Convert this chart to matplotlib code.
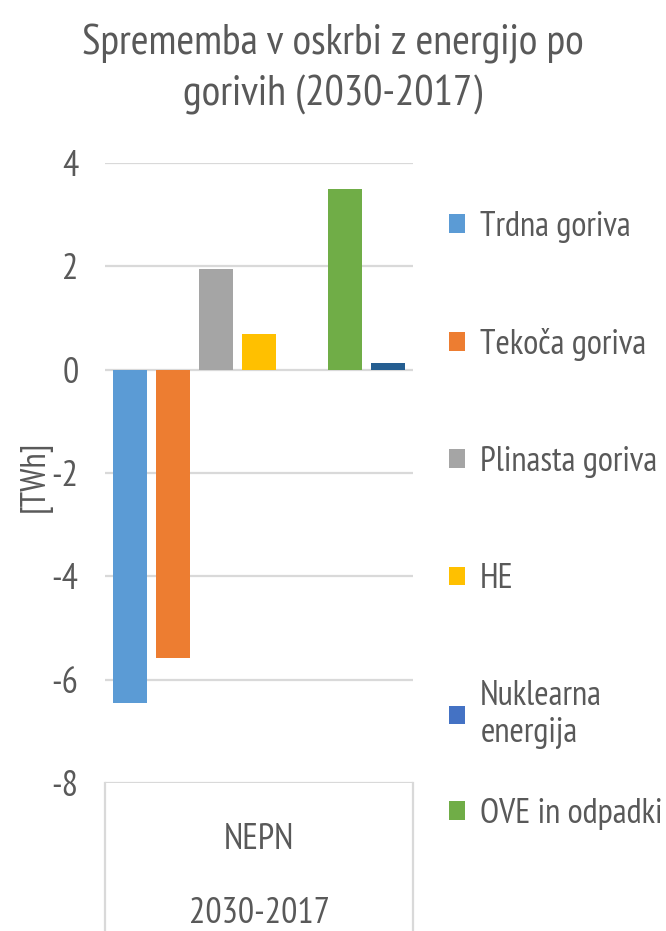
import numpy as np
import matplotlib
matplotlib.use("Agg")
import matplotlib.pyplot as plt
from matplotlib.lines import Line2D

plt.rcParams['font.family'] = ['PT Sans Narrow', 'Roboto Condensed', 'DejaVu Sans']

# data
series = ["Trdna goriva", "Tekoča goriva", "Plinasta goriva", "HE",
          "Nuklearna\nenergija", "OVE in odpadki", ""]
values = [-6.45, -5.58, 1.94, 0.69, 0.0, 3.5, 0.12]
colors = ["#5B9BD5", "#ED7D31", "#A5A5A5", "#FFC000", "#4472C4", "#70AD47", "#255E91"]
category = "NEPN"
sub_category = "2030-2017"
yticks = [-8, -6, -4, -2, 0, 2, 4]

TXT = "#595959"
GRID = "#D9D9D9"

fig = plt.figure(figsize=(6.66, 9.31), dpi=100)
ax = fig.add_axes([105/666, 1 - 783/931, 308/666, 620/931])

x = np.arange(len(values))
bars = ax.bar(x, values, width=0.79, color=colors, zorder=3)

ax.set_xlim(-0.58, len(values) - 1 + 0.58)
ax.set_ylim(-8, 4)
ax.set_yticks(yticks)
ax.set_yticklabels([str(v) for v in yticks])
ax.tick_params(axis='y', length=0, pad=19, labelsize=26, labelcolor=TXT)
ax.grid(axis='y', color=GRID, lw=1.6, zorder=0)
for s in ax.spines.values():
    s.set_visible(False)

# category axis box
ax.set_xticks([(len(values) - 1) / 2])
ax.set_xticklabels([category + "\n" + sub_category], linespacing=2.55)
ax.tick_params(axis='x', length=0, pad=29, labelsize=26, labelcolor=TXT)
for xb in (0, 1):
    ax.add_line(Line2D([xb, xb], [0, -0.3], transform=ax.transAxes,
                       color=GRID, lw=1.6, clip_on=False))

fig.text(35/666, 1 - 476/931, "[TWh]", rotation=90, ha='center', va='center',
         fontsize=25, color=TXT)

fig.text(0.5, 1 - 69/931, "Sprememba v oskrbi z energijo po\ngorivih (2030-2017)",
         ha='center', va='center', fontsize=31, color=TXT, linespacing=1.35)

# legend: first five entries, then the last one placed separately
leg_kw = dict(frameon=False, fontsize=25, labelcolor=TXT, handlelength=0.45,
              handleheight=0.45, handletextpad=0.45, borderaxespad=0, borderpad=0)
leg1 = fig.legend(bars[:5], series[:5], loc='upper left',
                  bbox_to_anchor=(449/666, 1 - 211/931), labelspacing=2.45, **leg_kw)
leg2 = fig.legend([bars[5]], [series[5]], loc='upper left',
                  bbox_to_anchor=(449/666, 1 - 798/931), **leg_kw)

fig.savefig("out.png", dpi=100)
